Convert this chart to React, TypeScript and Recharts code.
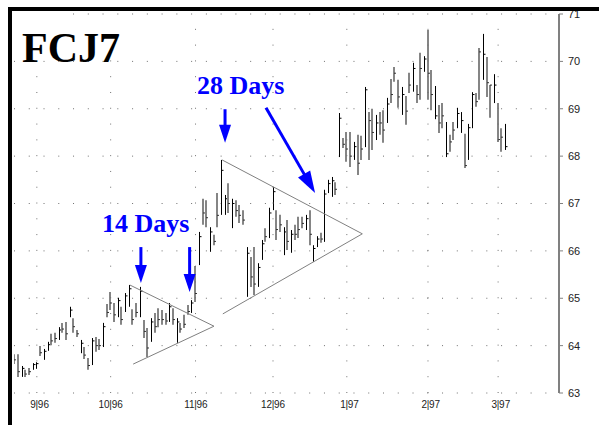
import React from "react";
import {
  Bar,
  CartesianGrid,
  ComposedChart,
  ReferenceLine,
  XAxis,
  YAxis,
} from "recharts";

// daily bars, oldest first (Sep 96 .. Mar 97)
const highs = [
  63.82, 63.82, 63.57, 63.49, 63.53, 63.63, 63.65, 63.99, 63.93, 64.08,
  64.25, 64.27, 64.39, 64.48, 64.5, 64.82, 64.58, 64.33, 64.12, 63.97,
  63.74, 64.16, 64.18, 64.14, 64.48, 64.88, 65.13, 64.9, 65.01, 64.82,
  65.11, 65.28, 64.77, 64.9, 65.24, 64.54, 64.37, 64.58, 64.69, 64.79,
  64.75, 64.69, 64.9, 64.79, 64.58, 64.48, 64.65, 64.86, 64.96, 65.68,
  66.4, 67.1, 67.07, 66.5, 66.34, 67.22, 67.92, 67.18, 67.43, 67.1,
  67.07, 66.97, 66.86, 66.08, 65.87, 66.08, 65.74, 66.23, 66.48, 66.91,
  67.35, 66.86, 66.76, 66.5, 66.65, 66.44, 66.55, 66.72, 66.72, 66.76,
  66.86, 66.12, 66.31, 66.38, 67.29, 67.5, 67.56, 67.45, 68.91, 68.38,
  68.51, 68.51, 68.3, 68.45, 68.43, 69.46, 68.93, 69.0, 68.87, 68.93,
  68.97, 69.23, 69.63, 69.88, 69.61, 69.46, 69.27, 69.76, 69.97, 69.5,
  70.18, 70.11, 70.66, 69.82, 69.48, 69.08, 69.12, 68.72, 68.45, 68.72,
  69.02, 68.93, 68.47, 68.68, 69.35, 69.33, 70.28, 70.58, 70.09, 69.5,
  69.73, 69.12, 68.59, 68.68,
];
const lows = [
  63.61, 63.34, 63.34, 63.34, 63.38, 63.49, 63.51, 63.78, 63.7, 63.89,
  64.01, 64.06, 64.12, 64.27, 64.12, 64.6, 64.27, 64.18, 63.84, 63.72,
  63.49, 63.59, 63.87, 63.91, 63.97, 64.6, 64.75, 64.5, 64.6, 64.44,
  64.71, 64.82, 64.44, 64.6, 64.6, 64.16, 63.76, 64.08, 64.27, 64.39,
  64.44, 64.44, 64.5, 64.44, 64.06, 64.27, 64.37, 64.65, 64.69, 64.92,
  65.7, 66.55, 66.5, 65.98, 66.12, 66.5, 66.76, 66.76, 66.8, 66.48,
  66.72, 66.59, 66.55, 65.03, 65.24, 65.07, 65.24, 65.81, 66.19, 66.27,
  66.86, 66.23, 66.4, 65.91, 66.02, 65.96, 66.23, 66.27, 66.48, 66.44,
  66.12, 65.77, 66.08, 66.17, 66.19, 67.22, 67.14, 67.18, 67.98, 68.17,
  67.88, 67.77, 67.92, 67.6, 67.92, 68.19, 67.92, 68.13, 68.34, 68.45,
  68.28, 68.7, 69.12, 69.57, 69.02, 68.87, 68.66, 69.33, 69.36, 69.12,
  69.19, 69.78, 69.19, 68.97, 68.78, 68.49, 68.59, 67.98, 68.09, 68.34,
  68.59, 68.49, 67.75, 67.92, 68.59, 69.04, 69.19, 69.61, 69.25, 68.81,
  69.12, 68.3, 68.09, 68.13,
];
const closes = [
  63.7, 63.45, 63.52, 63.4, 63.45, 63.6, 63.62, 63.85, 63.88, 64.02,
  64.1, 64.15, 64.33, 64.35, 64.25, 64.75, 64.4, 64.25, 64.05, 63.8,
  63.58, 64.1, 64.0, 64.0, 64.4, 64.7, 64.9, 64.65, 64.95, 64.55,
  65.05, 65.2, 64.55, 64.7, 65.15, 64.3, 63.95, 64.5, 64.4, 64.55,
  64.55, 64.52, 64.82, 64.55, 64.5, 64.35, 64.45, 64.72, 64.9, 65.1,
  66.3, 66.8, 66.7, 66.4, 66.2, 66.75, 67.7, 67.1, 67.0, 67.0,
  66.85, 66.75, 66.65, 65.95, 65.45, 65.3, 65.65, 66.15, 66.3, 66.8,
  67.25, 66.45, 66.55, 66.4, 66.2, 66.35, 66.35, 66.45, 66.58, 66.68,
  66.35, 66.05, 66.25, 66.25, 67.2, 67.42, 67.48, 67.3, 68.8, 68.25,
  68.15, 68.0, 68.2, 67.85, 68.15, 69.4, 68.75, 68.5, 68.7, 68.7,
  68.55, 69.1, 69.3, 69.75, 69.25, 69.3, 68.95, 69.5, 69.85, 69.3,
  69.85, 70.05, 69.75, 69.3, 68.85, 68.7, 68.85, 68.05, 68.3, 68.55,
  68.9, 68.75, 67.8, 68.6, 69.3, 69.15, 70.2, 70.15, 69.55, 69.5,
  69.5, 68.35, 68.4, 68.2,
];
// 1 = up day (black bar), 0 = down day (grey bar)
const upDays = [
  0, 0, 1, 0, 0, 1, 1, 0, 1, 1, 0, 0, 1, 0, 0, 1, 0, 0, 1, 0,
  0, 1, 0, 0, 1, 0, 0, 0, 1, 0, 1, 1, 0, 0, 1, 0, 0, 1, 0, 0,
  0, 0, 1, 0, 1, 0, 0, 0, 1, 0, 1, 0, 0, 1, 0, 0, 1, 1, 0, 1,
  0, 0, 0, 1, 0, 0, 1, 1, 0, 1, 1, 0, 0, 1, 0, 1, 0, 0, 0, 1,
  0, 1, 1, 0, 1, 1, 1, 0, 1, 0, 0, 0, 1, 0, 0, 1, 0, 0, 1, 0,
  0, 1, 0, 0, 0, 1, 0, 0, 1, 0, 0, 1, 0, 0, 1, 0, 0, 1, 0, 0,
  1, 1, 0, 1, 1, 0, 0, 1, 0, 0, 1, 0, 0, 1,
];

const monthTicks = [6, 26, 49, 70, 90, 112, 131];
const monthLabels = ["9|96", "10|96", "11|96", "12|96", "1|97", "2|97", "3|97"];
const priceTicks = [63, 64, 65, 66, 67, 68, 69, 70, 71];

// triangle pattern lines, [bar index, price]
const smallTriangle = [
  [[31.2, 65.28], [54.0, 64.41]],
  [[32.1, 63.61], [54.0, 64.41]],
];
const bigTriangle = [
  [[56.2, 67.92], [94.2, 66.36]],
  [[56.4, 64.67], [94.2, 66.36]],
];
// annotation arrows, from -> to
const arrows = [
  [[57, 68.99], [57, 68.28]],
  [[68.1, 69.02], [81.4, 67.22]],
  [[34.2, 66.08], [34.2, 65.32]],
  [[47.4, 66.08], [47.4, 65.13]],
];

const data = highs.map((high, i) => ({
  i,
  high,
  low: lows[i],
  close: closes[i],
  up: upDays[i] === 1,
}));

const BLUE = "#0000ff";

function OhlcBar(props: any) {
  const { x, y, width, height, payload } = props;
  if (x == null || y == null || !payload) return null;
  const top = Math.min(y, y + height);
  const bottom = Math.max(y, y + height);
  const span = payload.high - payload.low || 1;
  const cy = top + ((payload.high - payload.close) / span) * (bottom - top);
  const up = payload.up;
  const color = up ? "#000" : "#858585";
  const cx = up ? Math.round(x + width / 2) + 0.5 : Math.round(x + width / 2);
  return (
    <g>
      <line x1={cx} y1={top} x2={cx} y2={bottom} stroke={color} strokeWidth={up ? 1 : 2} />
      <line x1={cx} y1={cy} x2={cx + 2} y2={cy} stroke={up ? "#000" : "#333"} strokeWidth={1} />
    </g>
  );
}

function arrowShape(props: any) {
  const { x1, y1, x2, y2 } = props;
  const dx = x2 - x1;
  const dy = y2 - y1;
  const len = Math.hypot(dx, dy) || 1;
  const ux = dx / len;
  const uy = dy / len;
  const diag = Math.abs(ux) > 0.1;
  const head = diag ? 22 : 18;
  const half = diag ? 7 : 6;
  const bx = x2 - ux * head;
  const by = y2 - uy * head;
  const px = -uy;
  const py = ux;
  return (
    <g>
      <line x1={x1} y1={y1} x2={bx + ux} y2={by + uy} stroke={BLUE} strokeWidth={3} />
      <polygon
        points={`${x2},${y2} ${bx + px * half},${by + py * half} ${bx - px * half},${by - py * half}`}
        fill={BLUE}
      />
    </g>
  );
}

function MonthTick(props: any) {
  const { x, y, payload } = props;
  const label = monthLabels[monthTicks.indexOf(payload.value)] ?? "";
  const [m, yr] = label.split("|");
  const base = y + 15;
  return (
    <g fill="#222" fontSize={10} fontFamily="'Liberation Sans', Arial, sans-serif">
      <text x={x - 1} y={base} textAnchor="end">{m}</text>
      <text x={x} y={base} textAnchor="middle">|</text>
      <text x={x + 1} y={base} textAnchor="start">{yr}</text>
    </g>
  );
}

export default function App() {
  return (
    <div
      style={{
        position: "absolute",
        left: 0,
        top: 0,
        width: 599,
        height: 425,
        background: "#fff",
        overflow: "hidden",
      }}
    >
      <ComposedChart
        width={599}
        height={425}
        data={data}
        margin={{ top: 14, right: 0, bottom: 12, left: 14 }}
      >
        <CartesianGrid
          vertical={false}
          stroke="#707070"
          strokeDasharray="1 13.76"
        />
        {monthTicks.map((t) => (
          <ReferenceLine
            key={`m${t}`}
            x={t}
            stroke="#707070"
            strokeDasharray="1 14.79"
          />
        ))}
        <XAxis
          type="number"
          dataKey="i"
          domain={[-0.19, 147.5]}
          allowDataOverflow
          ticks={monthTicks}
          interval={0}
          height={20}
          axisLine={false}
          tickLine={false}
          tickSize={0}
          tickMargin={0}
          tick={<MonthTick />}
        />
        <YAxis
          orientation="right"
          domain={[63, 71]}
          ticks={priceTicks}
          interval={0}
          width={40}
          axisLine={{ stroke: "#808080", strokeWidth: 2 }}
          tickLine={{ stroke: "#808080" }}
          tickSize={4}
          tickMargin={5}
          tick={{ fill: "#222", fontSize: 11, fontFamily: "'Liberation Sans', Arial, sans-serif" }}
        />
        {[...smallTriangle, ...bigTriangle].map(([a, b], k) => (
          <ReferenceLine
            key={`t${k}`}
            segment={[{ x: a[0], y: a[1] }, { x: b[0], y: b[1] }]}
            stroke="#808080"
            strokeWidth={1}
            ifOverflow="visible"
          />
        ))}
        <Bar
          dataKey={(d: any) => [d.low, d.high]}
          barSize={3}
          shape={<OhlcBar />}
          isAnimationActive={false}
        />
        {arrows.map(([a, b], k) => (
          <ReferenceLine
            key={`a${k}`}
            segment={[{ x: a[0], y: a[1] }, { x: b[0], y: b[1] }]}
            shape={arrowShape}
            ifOverflow="visible"
          />
        ))}
      </ComposedChart>

      <svg
        width={599}
        height={425}
        style={{ position: "absolute", left: 0, top: 0, pointerEvents: "none" }}
      >
        <rect x={12} y={12} width={60} height={8} fill="#fff" />
        <rect x={12} y={20} width={178} height={38} fill="#fff" />
        <rect x={8} y={7} width={591} height={4} fill="#000" />
        <rect x={8} y={7} width={4} height={418} fill="#000" />
        <text
          x={22}
          y={62}
          fontFamily="'Liberation Serif', 'Times New Roman', serif"
          fontWeight="bold"
          fontSize={42}
          fill="#000"
        >
          FCJ7
        </text>
        <text
          x={197}
          y={94}
          fontFamily="'Liberation Serif', 'Times New Roman', serif"
          fontWeight="bold"
          fontSize={26}
          fill={BLUE}
        >
          28 Days
        </text>
        <text
          x={102}
          y={232}
          fontFamily="'Liberation Serif', 'Times New Roman', serif"
          fontWeight="bold"
          fontSize={26}
          fill={BLUE}
        >
          14 Days
        </text>
      </svg>
    </div>
  );
}
